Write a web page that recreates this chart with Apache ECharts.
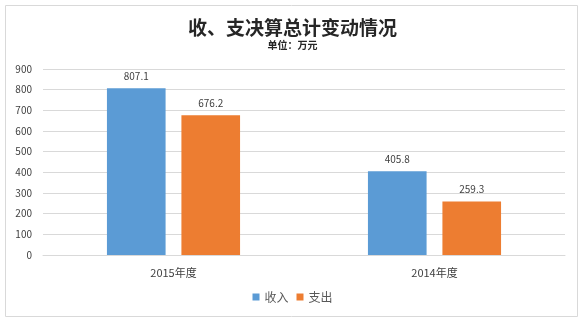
<!DOCTYPE html>
<html><head><meta charset="utf-8">
<script src="https://cdn.jsdelivr.net/npm/echarts@6/dist/echarts.min.js"></script>
<style>html,body{margin:0;padding:0;background:#fff}#c{width:585px;height:324px}</style>
</head><body><div id="c"></div>
<script>
const categories = ['2015年度', '2014年度'];
const incomeValues = [807.1, 405.8];
const expenseValues = [676.2, 259.3];
const seriesNames = ['收入', '支出'];
const yTicks = [0, 100, 200, 300, 400, 500, 600, 700, 800, 900];

const chart = echarts.init(document.getElementById('c'), null, {renderer: 'canvas'});
const font = '"Noto Sans CJK SC", "Microsoft YaHei", sans-serif';
const labelCfg = {show: true, position: 'top', distance: 7, color: '#404040', fontSize: 10, fontFamily: font,
  formatter: p => p.value.toFixed(1)};
chart.setOption({
  animation: false,
  textStyle: {fontFamily: font},
  graphic: [{type: 'rect', shape: {x: 5.5, y: 5.5, width: 572, height: 311}, style: {fill: 'none', stroke: '#D9D9D9', lineWidth: 1}, silent: true}],
  title: {
    text: '收、支决算总计变动情况',
    subtext: '单位：万元',
    left: 'center', top: 13, itemGap: 3,
    textStyle: {fontSize: 19, fontWeight: 'bold', color: '#262626', fontFamily: font},
    subtextStyle: {fontSize: 10, fontWeight: 'bold', color: '#262626', fontFamily: font}
  },
  legend: {
    data: seriesNames, bottom: 16, left: 'center', itemWidth: 7, itemHeight: 7, itemGap: 8,
    icon: 'rect', textStyle: {fontSize: 12, color: '#595959', fontFamily: font}
  },
  grid: {left: 43, right: 20, top: 69, bottom: 69},
  xAxis: {
    type: 'category', data: categories,
    axisLine: {lineStyle: {color: '#D9D9D9'}}, axisTick: {show: false},
    axisLabel: {color: '#404040', fontSize: 11, margin: 12, fontFamily: font}
  },
  yAxis: {
    type: 'value', min: yTicks[0], max: yTicks[yTicks.length - 1], interval: 100,
    axisLine: {show: false}, axisTick: {show: false},
    splitLine: {lineStyle: {color: '#D9D9D9'}},
    axisLabel: {color: '#404040', fontSize: 10, margin: 11, fontFamily: font}
  },
  series: [
    {name: seriesNames[0], type: 'bar', data: incomeValues, barGap: '27%', barCategoryGap: '49%',
     itemStyle: {color: '#5B9BD5'}, label: labelCfg},
    {name: seriesNames[1], type: 'bar', data: expenseValues,
     itemStyle: {color: '#ED7D31'}, label: labelCfg}
  ]
});
</script></body></html>
